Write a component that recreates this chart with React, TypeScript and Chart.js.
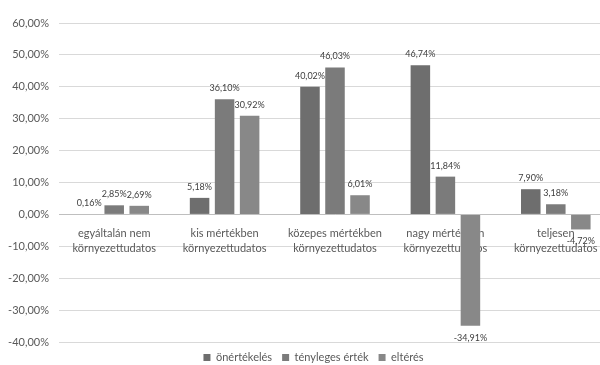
import React, { useEffect, useRef } from "react";
import { Chart, registerables } from "chart.js";

Chart.register(...registerables);

// Categories (two-line axis labels)
const categories: string[][] = [
  ["egyáltalán nem", "környezettudatos"],
  ["kis mértékben", "környezettudatos"],
  ["közepes mértékben", "környezettudatos"],
  ["nagy mértékben", "környezettudatos"],
  ["teljesen", "környezettudatos"],
];

const seriesNames = ["önértékelés", "tényleges érték", "eltérés"];

// Values in percent
const selfRating = [0.16, 5.18, 40.02, 46.74, 7.9];
const actualValue = [2.85, 36.1, 46.03, 11.84, 3.18];
const difference = [2.69, 30.92, 6.01, -34.91, -4.72];

const seriesColors = ["#6e6e6e", "#7b7b7b", "#888888"];

const yMin = -40;
const yMax = 60;
const yStep = 10;

const FONT = "Lato, 'Open Sans', sans-serif";

const fmtPct = (v: number) => v.toFixed(2).replace(".", ",") + "%";

// Draws the value above positive bars and below negative bars
const valueLabels = {
  id: "valueLabels",
  afterDatasetsDraw(chart: any) {
    const ctx = chart.ctx;
    ctx.save();
    ctx.font = `9px ${FONT}`;
    ctx.fillStyle = "#404040";
    ctx.textAlign = "center";
    ctx.textBaseline = "middle";
    chart.data.datasets.forEach((ds: any, di: number) => {
      const meta = chart.getDatasetMeta(di);
      meta.data.forEach((el: any, i: number) => {
        const v = ds.data[i] as number;
        const y = v >= 0 ? el.y - 11 : el.y + 12;
        ctx.fillText(fmtPct(v), el.x, y);
      });
    });
    ctx.restore();
  },
};

// Nudges the legend so it is centred on the whole chart width
const legendShift = {
  id: "legendShift",
  afterLayout(chart: any) {
    const lg = chart.legend;
    if (lg) {
      lg.left += 8;
      lg.right += 8;
    }
  },
};

export default function App() {
  const ref = useRef<HTMLCanvasElement | null>(null);

  useEffect(() => {
    if (!ref.current) return;
    const chart = new Chart(ref.current, {
      type: "bar",
      data: {
        labels: categories,
        datasets: [selfRating, actualValue, difference].map((d, i) => ({
          label: seriesNames[i],
          data: d,
          backgroundColor: seriesColors[i],
          borderWidth: 0,
          categoryPercentage: 0.68,
          barPercentage: 0.78,
        })),
      },
      options: {
        animation: false,
        responsive: false,
        maintainAspectRatio: false,
        layout: { padding: { top: 23, left: 0, right: 14, bottom: 0 } },
        plugins: {
          tooltip: { enabled: false },
          legend: {
            position: "bottom",
            labels: {
              boxWidth: 7,
              boxHeight: 7,
              padding: 10,
              color: "#595959",
              font: { family: FONT, size: 11 },
            },
          },
        },
        scales: {
          x: {
            position: { y: 0 } as any,
            grid: { display: false, drawTicks: false },
            border: { display: true, color: "#bfbfbf", width: 1 },
            ticks: {
              color: "#595959",
              font: { family: FONT, size: 11, lineHeight: 1.4 },
              padding: 11,
              autoSkip: false,
              maxRotation: 0,
              minRotation: 0,
            },
          },
          y: {
            min: yMin,
            max: yMax,
            grid: { color: "#d9d9d9", drawTicks: false },
            border: { display: false },
            ticks: {
              stepSize: yStep,
              color: "#595959",
              font: { family: FONT, size: 11 },
              padding: 10,
              callback: (v: any) => fmtPct(Number(v)),
            },
            afterFit: (scale: any) => {
              scale.width = 59;
            },
          },
        },
      },
      plugins: [valueLabels, legendShift],
    });
    return () => chart.destroy();
  }, []);

  return (
    <div
      style={{
        position: "fixed",
        left: 0,
        top: 0,
        width: 600,
        height: 365,
        overflow: "hidden",
        background: "#ffffff",
      }}
    >
      <canvas ref={ref} width={625} height={373} style={{ display: "block" }} />
    </div>
  );
}
